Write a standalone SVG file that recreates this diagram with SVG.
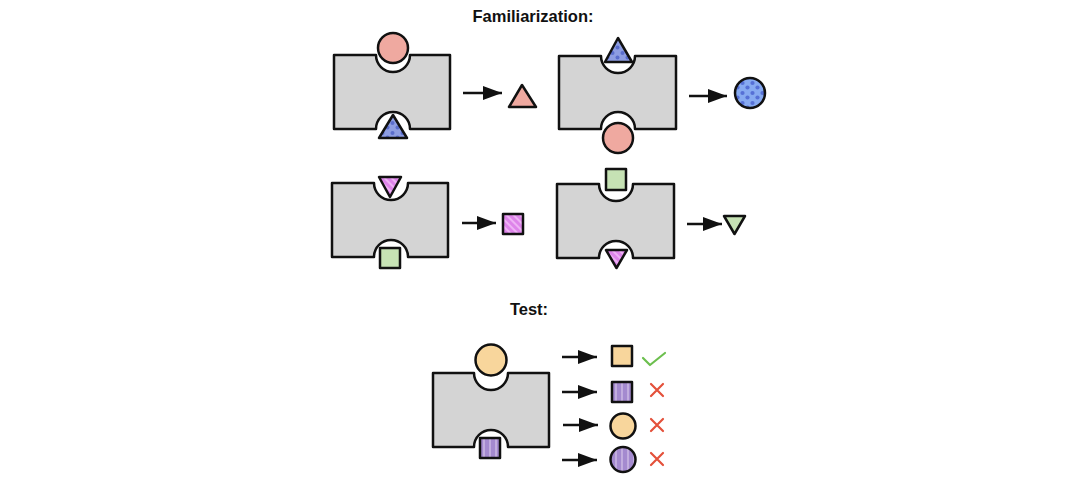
<svg xmlns="http://www.w3.org/2000/svg" width="1076" height="490" viewBox="0 0 1076 490">
<defs>
<style>
.machine{fill:#d4d4d4;stroke:#111;stroke-width:2.5;stroke-linejoin:round}
.shp{stroke:#111;stroke-width:2.5;stroke-linejoin:round}
.salmon{fill:#efa9a0}
.green{fill:#c6e2b4}
.peach{fill:#f8d69c}
.bdot{fill:url(#dotsA)}
.bdot2{fill:url(#dotsB)}
.pink{fill:url(#hatch)}
.purp{fill:url(#stripes)}
.arr{stroke:#111;stroke-width:2.5;fill:none;marker-end:url(#head)}
.title{font-family:"Liberation Sans",Arial,Helvetica,sans-serif;font-weight:bold;font-size:16.5px;fill:#111;text-anchor:middle}
.check{fill:none;stroke:#6cbf4e;stroke-width:2.2;stroke-linecap:round;stroke-linejoin:round}
.cross{fill:none;stroke:#e4513b;stroke-width:2.2;stroke-linecap:round}
</style>
<marker id="head" markerUnits="userSpaceOnUse" markerWidth="20" markerHeight="16" refX="19" refY="7" orient="auto">
<path d="M0,0 L19,7 L0,14 Z" fill="#111"/>
</marker>
<pattern id="dotsA" patternUnits="userSpaceOnUse" width="10" height="10">
<rect width="10" height="10" fill="#8d9de2"/>
<circle cx="2.5" cy="3" r="2" fill="#5a6dcc"/>
<circle cx="7.5" cy="7.5" r="2" fill="#5a6dcc"/>
</pattern>
<pattern id="dotsB" patternUnits="userSpaceOnUse" width="10" height="10">
<rect width="10" height="10" fill="#87aaf1"/>
<circle cx="2.5" cy="3" r="2.1" fill="#5670d6"/>
<circle cx="7.5" cy="7.5" r="2.1" fill="#5670d6"/>
</pattern>
<pattern id="hatch" patternUnits="userSpaceOnUse" width="5" height="5" patternTransform="rotate(-45)">
<rect width="5" height="5" fill="#de84ea"/>
<rect width="2" height="5" fill="#eeb2f5"/>
</pattern>
<pattern id="stripes" patternUnits="userSpaceOnUse" width="6" height="6">
<rect width="6" height="6" fill="#a48acf"/>
<rect x="3" width="2" height="6" fill="#c2addf"/>
</pattern>
</defs>

<text class="title" x="533" y="22">Familiarization:</text>
<text class="title" x="529" y="315">Test:</text>

<g id="machine1">
<path class="machine" d="M334,55 H376 A17,17 0 0 0 410,55 H450 V129 H410 A17,17 0 0 0 376,129 H334 Z"/>
<circle class="shp salmon" cx="393" cy="48" r="15"/>
<polygon class="shp bdot" points="393,115 379,138 407,138"/>
</g>
<g id="output1">
<polygon class="shp salmon" points="522,85 509,107 536,107"/>
</g>

<g id="machine2">
<path class="machine" d="M559,56 H601 A17,17 0 0 0 635,56 H676 V129 H635 A17,17 0 0 0 601,129 H559 Z"/>
<polygon class="shp bdot" points="618,38 605,62 632,62"/>
<circle class="shp salmon" cx="618" cy="138" r="15"/>
</g>
<g id="output2">
<circle class="shp bdot2" cx="750" cy="93" r="15"/>
</g>

<g id="machine3">
<path class="machine" d="M332,183 H374 A17,17 0 0 0 408,183 H448 V257 H408 A17,17 0 0 0 374,257 H332 Z"/>
<polygon class="shp pink" points="379,177 401,177 390,197"/>
<rect class="shp green" x="380" y="248" width="20" height="20"/>
</g>
<g id="output3">
<rect class="shp pink" x="503" y="214" width="20" height="20"/>
</g>

<g id="machine4">
<path class="machine" d="M557,184 H599 A17,17 0 0 0 633,184 H674 V258 H633 A17,17 0 0 0 599,258 H557 Z"/>
<rect class="shp green" x="606" y="169" width="20" height="21"/>
<polygon class="shp pink" points="606,250 627,250 616.5,268"/>
</g>
<g id="output4">
<polygon class="shp green" points="724,216 745,216 734.5,234"/>
</g>

<g id="test-machine">
<path class="machine" d="M433,373 H474 A17,17 0 0 0 508,373 H549 V447 H508 A17,17 0 0 0 474,447 H433 Z"/>
<circle class="shp peach" cx="491" cy="360" r="15.5"/>
<rect class="shp purp" x="480" y="438" width="20" height="20"/>
</g>

<g id="test-out1">
<rect class="shp peach" x="612" y="346" width="20" height="20"/>
<polyline class="check" points="643,358 650,365 665,353"/>
</g>
<g id="test-out2">
<rect class="shp purp" x="612" y="382" width="20" height="20"/>
<path class="cross" d="M651,384 L663,396 M663,384 L651,396"/>
</g>
<g id="test-out3">
<circle class="shp peach" cx="623" cy="426" r="12.5"/>
<path class="cross" d="M651,419 L663,431 M663,419 L651,431"/>
</g>
<g id="test-out4">
<circle class="shp purp" cx="623" cy="459.5" r="12.5"/>
<path class="cross" d="M651,453 L663,465 M663,453 L651,465"/>
</g>

<g id="connectors">
<line class="arr" x1="463" y1="93" x2="502" y2="93"/>
<line class="arr" x1="689" y1="96" x2="727" y2="96"/>
<line class="arr" x1="462" y1="223" x2="496" y2="223"/>
<line class="arr" x1="687" y1="224" x2="722" y2="224"/>
<line class="arr" x1="562" y1="357" x2="597" y2="357"/>
<line class="arr" x1="562" y1="392" x2="597" y2="392"/>
<line class="arr" x1="563" y1="425" x2="598" y2="425"/>
<line class="arr" x1="562" y1="460" x2="597" y2="460"/>
</g>
</svg>
